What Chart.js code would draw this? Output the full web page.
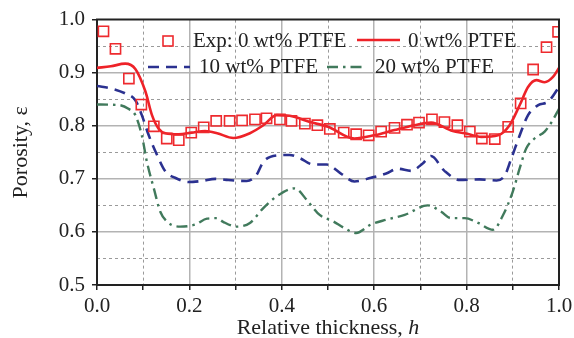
<!DOCTYPE html>
<html>
<head>
<meta charset="utf-8">
<script src="https://cdn.jsdelivr.net/npm/chart.js@4.4.0/dist/chart.umd.min.js"></script>
<style>
  body { margin: 0; background: #fff; }
  #wrap { width: 574px; height: 338px; }
</style>
</head>
<body>
<div id="wrap"><canvas id="porosity" width="574" height="338"></canvas></div>
<script>
// experimental points, 0 wt% PTFE
var hExp = [0.014, 0.040, 0.069, 0.096, 0.123, 0.151, 0.177, 0.204, 0.231, 0.258, 0.287, 0.314, 0.342, 0.367, 0.396, 0.421, 0.450, 0.477, 0.504, 0.534, 0.561, 0.588, 0.615, 0.644, 0.671, 0.697, 0.725, 0.752, 0.780, 0.807, 0.833, 0.861, 0.890, 0.917, 0.944, 0.973, 0.998];
var exp0 = [0.978, 0.945, 0.889, 0.840, 0.799, 0.776, 0.773, 0.787, 0.797, 0.809, 0.809, 0.810, 0.812, 0.814, 0.812, 0.809, 0.804, 0.801, 0.794, 0.787, 0.784, 0.782, 0.789, 0.796, 0.802, 0.806, 0.812, 0.807, 0.801, 0.789, 0.776, 0.775, 0.798, 0.842, 0.906, 0.948, 0.977];

// simulated curves
var h0 = [0, 0.03, 0.061, 0.083, 0.105, 0.119, 0.133, 0.148, 0.177, 0.205, 0.234, 0.26, 0.295, 0.331, 0.36, 0.389, 0.417, 0.461, 0.5, 0.557, 0.6, 0.644, 0.687, 0.723, 0.77, 0.796, 0.832, 0.868, 0.893, 0.915, 0.933, 0.951, 0.969, 0.987, 1.0];
var sim0 = [0.909, 0.912, 0.917, 0.907, 0.864, 0.82, 0.795, 0.786, 0.784, 0.787, 0.79, 0.786, 0.777, 0.786, 0.801, 0.82, 0.819, 0.807, 0.798, 0.776, 0.782, 0.792, 0.801, 0.806, 0.79, 0.786, 0.779, 0.782, 0.801, 0.839, 0.873, 0.886, 0.882, 0.892, 0.909];

var h10 = [0, 0.032, 0.061, 0.083, 0.097, 0.112, 0.13, 0.148, 0.169, 0.198, 0.227, 0.256, 0.28, 0.324, 0.345, 0.36, 0.389, 0.417, 0.439, 0.468, 0.497, 0.528, 0.557, 0.593, 0.626, 0.651, 0.68, 0.705, 0.723, 0.752, 0.785, 0.828, 0.865, 0.883, 0.897, 0.915, 0.933, 0.955, 0.976, 1.0];
var sim10 = [0.875, 0.87, 0.861, 0.848, 0.82, 0.782, 0.745, 0.714, 0.702, 0.694, 0.696, 0.70, 0.698, 0.696, 0.707, 0.732, 0.744, 0.745, 0.739, 0.727, 0.727, 0.71, 0.695, 0.702, 0.71, 0.719, 0.715, 0.729, 0.743, 0.715, 0.698, 0.699, 0.697, 0.707, 0.739, 0.782, 0.82, 0.839, 0.845, 0.873];

var h20 = [0, 0.047, 0.068, 0.083, 0.097, 0.108, 0.123, 0.137, 0.155, 0.18, 0.213, 0.238, 0.26, 0.273, 0.302, 0.331, 0.36, 0.389, 0.428, 0.457, 0.482, 0.511, 0.536, 0.561, 0.593, 0.626, 0.666, 0.716, 0.745, 0.766, 0.796, 0.825, 0.857, 0.879, 0.9, 0.915, 0.929, 0.947, 0.969, 0.984, 1.0];
var sim20 = [0.84, 0.839, 0.832, 0.82, 0.782, 0.732, 0.682, 0.638, 0.617, 0.61, 0.614, 0.625, 0.626, 0.619, 0.61, 0.617, 0.645, 0.667, 0.682, 0.657, 0.632, 0.62, 0.607, 0.598, 0.614, 0.623, 0.632, 0.65, 0.638, 0.626, 0.626, 0.617, 0.604, 0.632, 0.676, 0.72, 0.757, 0.776, 0.789, 0.807, 0.832];

var minorX = [0.1, 0.3, 0.5, 0.7, 0.9];
var minorY = [0.55, 0.65, 0.75, 0.85, 0.95];

var FONT = 'Liberation Serif';
var INK = '#222';

function pts(xs, ys) {
    var out = [];
    for (var i = 0; i < xs.length; i++) out.push({x: xs[i], y: ys[i]});
    return out;
}
function isMajor(v, step) {
    var r = v / step;
    return Math.abs(r - Math.round(r)) < 1e-6;
}

// legend drawn inside the plot, two rows like the original
var legendInside = {
    id: 'legendInside',
    afterDatasetsDraw: function(chart) {
        var ctx = chart.ctx;
        var ds = chart.data.datasets;
        ctx.save();
        ctx.font = '21px "' + FONT + '"';
        ctx.fillStyle = INK;
        ctx.textBaseline = 'alphabetic';
        // Exp square
        ctx.strokeStyle = ds[0].borderColor;
        ctx.lineWidth = 1.6;
        ctx.strokeRect(163, 36, 10, 10);
        ctx.fillText(ds[0].label, 193, 47);
        // 0 wt%
        ctx.strokeStyle = ds[1].borderColor;
        ctx.lineWidth = ds[1].borderWidth;
        ctx.beginPath(); ctx.moveTo(357, 40); ctx.lineTo(400, 40); ctx.stroke();
        ctx.fillText(ds[1].label, 408, 47);
        // 10 wt%
        ctx.strokeStyle = ds[2].borderColor;
        ctx.lineWidth = ds[2].borderWidth;
        ctx.setLineDash(ds[2].borderDash);
        ctx.beginPath(); ctx.moveTo(148, 67); ctx.lineTo(190, 67); ctx.stroke();
        ctx.setLineDash([]);
        ctx.fillText(ds[2].label, 199, 73);
        // 20 wt%
        ctx.strokeStyle = ds[3].borderColor;
        ctx.lineWidth = ds[3].borderWidth;
        ctx.setLineDash(ds[3].borderDash);
        ctx.beginPath(); ctx.moveTo(327, 67); ctx.lineTo(364, 67); ctx.stroke();
        ctx.setLineDash([]);
        ctx.fillText(ds[3].label, 375, 73);
        ctx.restore();
    }
};

// frame on top/right and the axis titles (italic symbol)
var frameTitles = {
    id: 'frameTitles',
    afterDraw: function(chart) {
        var ctx = chart.ctx;
        var a = chart.chartArea;
        ctx.save();
        ctx.strokeStyle = INK;
        ctx.lineWidth = 2;
        ctx.beginPath();
        ctx.moveTo(a.left - 1, a.top);
        ctx.lineTo(a.right, a.top);
        ctx.lineTo(a.right, a.bottom + 1);
        ctx.stroke();

        ctx.fillStyle = INK;
        ctx.textBaseline = 'alphabetic';
        // x title
        var t1 = 'Relative thickness, ', t2 = 'h';
        ctx.font = '22px "' + FONT + '"';
        var w1 = ctx.measureText(t1).width;
        ctx.font = 'italic 22px "' + FONT + '"';
        var w2 = ctx.measureText(t2).width;
        var cx = (a.left + a.right) / 2;
        var x0 = cx - (w1 + w2) / 2;
        ctx.font = '22px "' + FONT + '"';
        ctx.fillText(t1, x0, 334);
        ctx.font = 'italic 22px "' + FONT + '"';
        ctx.fillText(t2, x0 + w1, 334);

        // y title
        ctx.translate(27, (a.top + a.bottom) / 2);
        ctx.rotate(-Math.PI / 2);
        var s1 = 'Porosity, ', s2 = '\u03B5';
        ctx.font = '22px "' + FONT + '"';
        var v1 = ctx.measureText(s1).width;
        var v2 = ctx.measureText(s2).width;
        ctx.fillText(s1, -(v1 + v2) / 2, 0);
        ctx.fillText(s2, -(v1 + v2) / 2 + v1, 0);
        ctx.restore();
    }
};

var ctx = document.getElementById('porosity');
var chart = new Chart(ctx, {
    type: 'line',
    data: {
        datasets: [{
            label: 'Exp: 0 wt% PTFE',
            data: pts(hExp, exp0),
            showLine: false,
            borderColor: '#ee2a2e',
            backgroundColor: 'rgba(255,255,255,0)',
            pointStyle: 'rect',
            pointRadius: 7.2,
            pointBorderWidth: 1.6,
            order: 0
        }, {
            label: '0 wt% PTFE',
            data: pts(h0, sim0),
            borderColor: '#ee2228',
            borderWidth: 2.6,
            pointRadius: 0,
            cubicInterpolationMode: 'monotone',
            order: 1
        }, {
            label: '10 wt% PTFE',
            data: pts(h10, sim10),
            borderColor: '#2b3190',
            borderWidth: 2.6,
            borderDash: [11, 7],
            pointRadius: 0,
            cubicInterpolationMode: 'monotone',
            order: 2
        }, {
            label: '20 wt% PTFE',
            data: pts(h20, sim20),
            borderColor: '#417a5c',
            borderWidth: 2.4,
            borderDash: [11, 5, 2.5, 5],
            pointRadius: 0,
            cubicInterpolationMode: 'monotone',
            order: 3
        }]
    },
    options: {
        responsive: false,
        animation: false,
        devicePixelRatio: 1,
        layout: { padding: { top: 19, right: 15, left: 0, bottom: 0 } },
        plugins: { legend: { display: false }, tooltip: { enabled: false } },
        scales: {
            x: {
                type: 'linear',
                position: 'bottom',
                min: 0, max: 1,
                afterFit: function(s) { s.height = 53; s.paddingRight = 0; s.paddingLeft = 0; },
                ticks: {
                    stepSize: 0.1,
                    padding: 4,
                    color: INK,
                    font: { family: FONT, size: 21 },
                    callback: function(v) { return isMajor(v, 0.2) ? v.toFixed(1) : ''; }
                },
                grid: {
                    color: function(c) { return (c.tick && isMajor(c.tick.value, 0.2) && c.tick.value > 0 && c.tick.value < 1) ? '#b3b3b3' : 'rgba(0,0,0,0)'; },
                    lineWidth: 1.5,
                    tickColor: INK,
                    tickLength: 5,
                    tickWidth: 1.5
                },
                border: { color: INK, width: 2 }
            },
            x2: {
                type: 'linear',
                position: 'bottom',
                min: 0, max: 1,
                afterFit: function(s) { s.height = 0; s.paddingRight = 0; s.paddingLeft = 0; },
                afterBuildTicks: function(s) { s.ticks = minorX.map(function(v) { return {value: v}; }); },
                ticks: { display: false },
                grid: { color: '#9a9a9a', lineWidth: 1, drawTicks: false },
                border: { display: false, dash: [3, 3] }
            },
            y: {
                type: 'linear',
                position: 'left',
                min: 0.5, max: 1.0,
                afterFit: function(s) { s.width = 97; },
                ticks: {
                    stepSize: 0.05,
                    padding: 7,
                    color: INK,
                    font: { family: FONT, size: 21 },
                    callback: function(v) { return isMajor(v, 0.1) ? v.toFixed(1) : ''; }
                },
                grid: {
                    color: function(c) { return (c.tick && isMajor(c.tick.value, 0.1) && c.tick.value > 0.55 && c.tick.value < 0.95) ? '#b3b3b3' : 'rgba(0,0,0,0)'; },
                    lineWidth: 1.5,
                    tickColor: INK,
                    tickLength: 5,
                    tickWidth: 1.5
                },
                border: { color: INK, width: 2 }
            },
            y2: {
                type: 'linear',
                position: 'left',
                min: 0.5, max: 1.0,
                afterFit: function(s) { s.width = 0; },
                afterBuildTicks: function(s) { s.ticks = minorY.map(function(v) { return {value: v}; }); },
                ticks: { display: false },
                grid: { color: '#9a9a9a', lineWidth: 1, drawTicks: false },
                border: { display: false, dash: [3, 3] }
            }
        }
    },
    plugins: [legendInside, frameTitles]
});
</script>
</body>
</html>
